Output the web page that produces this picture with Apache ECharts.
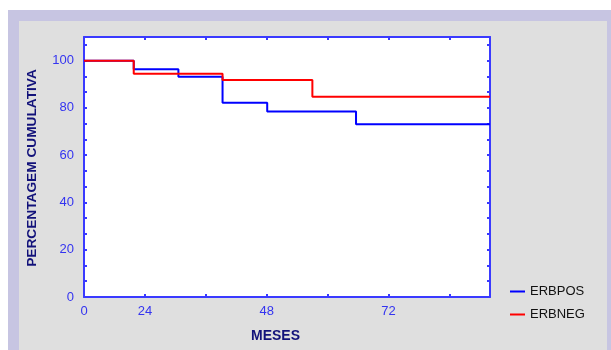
<!DOCTYPE html>
<html>
<head>
<meta charset="utf-8">
<script src="https://cdn.jsdelivr.net/npm/echarts@6/dist/echarts.min.js"></script>
<style>
  html, body { margin: 0; padding: 0; background: #ffffff; }
  #chart { width: 611px; height: 350px; }
</style>
</head>
<body>
<div id="chart"></div>
<script>
// Cumulative survival (%) by month, step curves
const seriesNames = ['ERBPOS', 'ERBNEG'];
const erbposMonths = [12, 21.8, 30.6, 39.3, 48.1, 65.6, 92];
const erbposValues = [100, 96.4, 93.2, 82.2, 78.5, 73.1, 73.1];
const erbnegMonths = [12, 21.8, 39.3, 57, 92];
const erbnegValues = [100, 94.5, 91.8, 84.7, 84.7];

// Axis labelling
const xTickLabels = { 12: '0', 24: '24', 48: '48', 72: '72' };
const yLabelStep = 20;
const xTitle = 'MESES';
const yTitle = 'PERCENTAGEM CUMULATIVA';

const axisBlue = '#3a3aff';
const labelBlue = '#3434f0';
const titleNavy = '#12127a';
const font = 'Liberation Sans, Arial, sans-serif';

function pairs(xs, ys) { return xs.map((x, i) => [x, ys[i]]); }

const chart = echarts.init(document.getElementById('chart'), null, { renderer: 'canvas' });

const lineStyle = { color: axisBlue, width: 2 };
const xBase = {
  type: 'value', min: 12, max: 92, interval: 12,
  axisLine: { show: true, onZero: false, lineStyle },
  axisTick: { show: true, inside: true, length: 3, lineStyle },
  splitLine: { show: false }
};
const yBase = {
  type: 'value', min: 0, max: 110, interval: 20 / 3,
  axisLine: { show: true, onZero: false, lineStyle },
  axisTick: { show: true, inside: true, length: 3, lineStyle },
  splitLine: { show: false }
};

chart.setOption({
  backgroundColor: '#ffffff',
  animation: false,
  graphic: [
    { type: 'rect', z: -10, shape: { x: 8, y: 10, width: 603, height: 340 }, style: { fill: '#c7c5e2' } },
    { type: 'rect', z: -9, shape: { x: 19, y: 21, width: 588, height: 329 }, style: { fill: '#dfdfdf' } },
    {
      type: 'text', left: 251, top: 329,
      style: { text: xTitle, fill: titleNavy, font: 'bold 14px ' + font }
    },
    {
      type: 'text', x: 32, y: 168, rotation: Math.PI / 2,
      style: { text: yTitle, fill: titleNavy, font: 'bold 13.7px ' + font, align: 'center', verticalAlign: 'middle' }
    }
  ],
  grid: { left: 84, right: 121, top: 37, bottom: 53, show: true, backgroundColor: '#ffffff', borderWidth: 0 },
  legend: {
    orient: 'vertical', left: 505, top: 280, itemGap: 10,
    itemWidth: 15, itemHeight: 2, icon: 'rect',
    textStyle: { color: '#111111', fontFamily: font, fontSize: 13 },
    data: seriesNames
  },
  xAxis: [
    Object.assign({}, xBase, {
      position: 'bottom',
      axisLabel: {
        color: labelBlue, fontFamily: font, fontSize: 13, margin: 8,
        showMaxLabel: false,
        formatter: v => xTickLabels[Math.round(v)] || ''
      }
    }),
    Object.assign({}, xBase, { position: 'top', axisLabel: { show: false } })
  ],
  yAxis: [
    Object.assign({}, yBase, {
      position: 'left',
      axisLabel: {
        color: labelBlue, fontFamily: font, fontSize: 13, margin: 10,
        formatter: v => {
          const k = Math.round(v / yLabelStep);
          return Math.abs(v - k * yLabelStep) < 0.01 && k * yLabelStep <= 100 ? String(k * yLabelStep) : '';
        }
      }
    }),
    Object.assign({}, yBase, { position: 'right', axisLabel: { show: false } })
  ],
  series: [
    {
      name: seriesNames[0], type: 'line', step: 'end', showSymbol: false,
      data: pairs(erbposMonths, erbposValues),
      lineStyle: { color: '#0000ff', width: 2 }, itemStyle: { color: '#0000ff' }, z: 3
    },
    {
      name: seriesNames[1], type: 'line', step: 'end', showSymbol: false,
      data: pairs(erbnegMonths, erbnegValues),
      lineStyle: { color: '#ff0000', width: 2 }, itemStyle: { color: '#ff0000' }, z: 4
    }
  ]
});
</script>
</body>
</html>
